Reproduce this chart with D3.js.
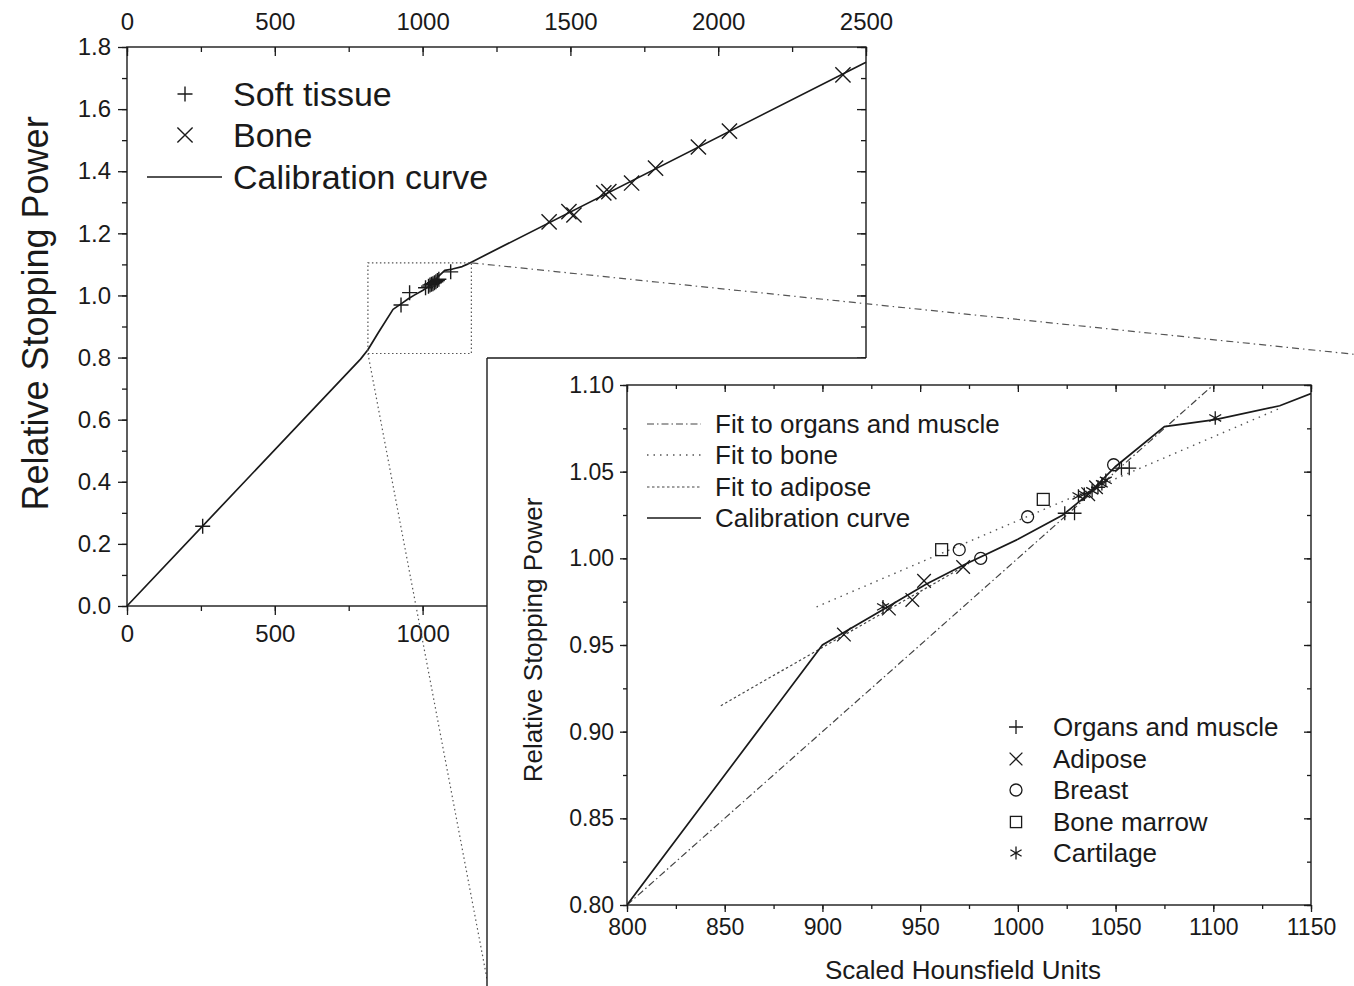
<!DOCTYPE html>
<html><head><meta charset="utf-8">
<script src="https://cdn.jsdelivr.net/npm/d3@7"></script>
<style>
body{margin:0;background:#fff;}
svg{display:block;font-family:"Liberation Sans",Arial,sans-serif;}
</style></head><body>
<svg id="c" width="1354" height="986"></svg>
<script>
// ---------- data ----------
// main plot
const mainXDomain = [0, 2500];
const mainYDomain = [0, 1.8];
const mainXTicks = [0, 500, 1000, 1500, 2000, 2500];
const mainXBottomTicks = [0, 500, 1000];
const mainYTicks = [0, 0.2, 0.4, 0.6, 0.8, 1.0, 1.2, 1.4, 1.6, 1.8];
const softX = [256, 927, 956, 1010, 1020, 1025, 1030, 1035, 1040, 1045, 1050, 1055, 1095];
const softY = [0.257, 0.969, 1.009, 1.025, 1.030, 1.034, 1.036, 1.038, 1.041, 1.044, 1.048, 1.052, 1.076];
const boneX = [1428, 1495, 1512, 1613, 1630, 1707, 1788, 1933, 2038, 2422];
const boneY = [1.237, 1.270, 1.259, 1.330, 1.334, 1.362, 1.410, 1.478, 1.529, 1.710];
const mainCalX = [0, 790, 815, 850, 900, 932, 953, 972, 1000, 1023, 1035, 1050, 1075, 1101, 1134, 1150, 2500];
const mainCalY = [0, 0.795, 0.825, 0.880, 0.955, 0.976, 0.990, 1.001, 1.016, 1.030, 1.041, 1.058, 1.081, 1.085, 1.093, 1.100, 1.751];
const zoomBoxX = [815, 1165];
const zoomBoxY = [0.813, 1.105];
const mainLegend = ["Soft tissue", "Bone", "Calibration curve"];

// inset
const insetXDomain = [800, 1150];
const insetYDomain = [0.80, 1.10];
const insetXTicks = [800, 850, 900, 950, 1000, 1050, 1100, 1150];
const insetYTicks = [0.80, 0.85, 0.90, 0.95, 1.00, 1.05, 1.10];
const calX = [800, 900, 932, 953, 972, 1000, 1023, 1035, 1050, 1075, 1101, 1134, 1150];
const calY = [0.800, 0.950, 0.971, 0.985, 0.996, 1.011, 1.025, 1.036, 1.053, 1.076, 1.080, 1.088, 1.095];
const organFitX = [800, 1100];
const organFitY = [0.800, 1.100];
const boneFitX = [897, 1135];
const boneFitY = [0.972, 1.087];
const adiposeFitX = [848, 975];
const adiposeFitY = [0.915, 0.997];
const organsX = [1024, 1029, 1041, 1053, 1057];
const organsY = [1.026, 1.026, 1.041, 1.052, 1.052];
const adiposeX = [911, 934, 946, 952, 972, 1036, 1040];
const adiposeY = [0.956, 0.971, 0.976, 0.987, 0.995, 1.037, 1.041];
const breastX = [970, 981, 1005, 1049];
const breastY = [1.005, 1.000, 1.024, 1.054];
const marrowX = [961, 1013];
const marrowY = [1.005, 1.034];
const cartilageX = [931, 1031, 1034, 1038, 1043, 1045, 1101];
const cartilageY = [0.972, 1.036, 1.037, 1.039, 1.043, 1.045, 1.081];
const lineLegend = ["Fit to organs and muscle", "Fit to bone", "Fit to adipose", "Calibration curve"];
const markerLegend = ["Organs and muscle", "Adipose", "Breast", "Bone marrow", "Cartilage"];

// ---------- layout ----------
const svg = d3.select("#c");
const INK = "#1a1a1a";
const mx = d3.scaleLinear(mainXDomain, [127, 866]);
const my = d3.scaleLinear(mainYDomain, [606, 47]);
const ix = d3.scaleLinear(insetXDomain, [627, 1311]);
const iy = d3.scaleLinear(insetYDomain, [905, 385]);
const panel = {left: 487, top: 358, right: 1390, bottom: 1000};

const zip = (xs, ys) => xs.map((x, i) => [x, ys[i]]);

function marker(g, type, x, y, s) {
  if (type === "plus") {
    g.append("path").attr("d", `M${x-s},${y}H${x+s}M${x},${y-s}V${y+s}`);
  } else if (type === "cross") {
    const t = s * 0.8;
    g.append("path").attr("d", `M${x-t},${y-t}L${x+t},${y+t}M${x-t},${y+t}L${x+t},${y-t}`);
  } else if (type === "circle") {
    g.append("circle").attr("cx", x).attr("cy", y).attr("r", s * 0.75).attr("fill", "none");
  } else if (type === "square") {
    const t = s * 0.7;
    g.append("rect").attr("x", x-t).attr("y", y-t).attr("width", 2*t).attr("height", 2*t).attr("fill", "none");
  } else if (type === "star") {
    const t = s * 0.8, u = s * 0.7;
    g.append("path").attr("d", `M${x},${y-t}V${y+t}M${x-u},${y-t*0.5}L${x+u},${y+t*0.5}M${x-u},${y+t*0.5}L${x+u},${y-t*0.5}`);
  }
}

function styleAxis(g, fs) {
  g.select(".domain").remove();
  g.selectAll("line").attr("stroke", INK).attr("stroke-width", 1.3);
  g.selectAll("text").attr("fill", INK).attr("font-size", fs).attr("font-family", '"Liberation Sans",Arial,sans-serif');
}

// ---------- main plot ----------
const main = svg.append("g");
const mMinorX = d3.range(mainXDomain[0], mainXDomain[1] + 1, 250);
const mMinorXBottom = d3.range(0, 1251, 250);
const mMinorY = d3.range(0, 19).map(i => i / 10);

// left
let g = main.append("g").attr("transform", `translate(${mx(0)},0)`)
  .call(d3.axisLeft(my).tickValues(mMinorY).tickSize(5).tickFormat(""));
styleAxis(g, 24);
g = main.append("g").attr("transform", `translate(${mx(0)},0)`)
  .call(d3.axisLeft(my).tickValues(mainYTicks).tickSize(9).tickPadding(7).tickFormat(d3.format(".1f")));
styleAxis(g, 24);
// right (inward)
g = main.append("g").attr("transform", `translate(${mx(2500)},0)`)
  .call(d3.axisLeft(my).tickValues(mMinorY).tickSize(5).tickFormat(""));
styleAxis(g, 24);
g = main.append("g").attr("transform", `translate(${mx(2500)},0)`)
  .call(d3.axisLeft(my).tickValues(mainYTicks).tickSize(9).tickFormat(""));
styleAxis(g, 24);
// top (inward ticks, labels above)
g = main.append("g").attr("transform", `translate(0,${my(1.8)})`)
  .call(d3.axisBottom(mx).tickValues(mMinorX).tickSize(5).tickFormat(""));
styleAxis(g, 24);
g = main.append("g").attr("transform", `translate(0,${my(1.8)})`)
  .call(d3.axisTop(mx).tickValues(mainXTicks).tickSize(-9).tickPadding(17).tickFormat(d3.format("d")));
styleAxis(g, 24);
// bottom (right part hidden behind the inset panel)
g = main.append("g").attr("transform", `translate(0,${my(0)})`)
  .call(d3.axisBottom(mx).tickValues(mMinorXBottom).tickSize(5).tickFormat(""));
styleAxis(g, 24);
g = main.append("g").attr("transform", `translate(0,${my(0)})`)
  .call(d3.axisBottom(mx).tickValues(mainXBottomTicks).tickSize(9).tickPadding(10).tickFormat(d3.format("d")));
styleAxis(g, 24);
// frame
main.append("rect").attr("x", mx(0)).attr("y", my(1.8)).attr("width", mx(2500) - mx(0)).attr("height", my(0) - my(1.8))
  .attr("fill", "none").attr("stroke", INK).attr("stroke-width", 1.4);

// y label
main.append("text").attr("transform", `translate(48,${(my(0) + my(1.8)) / 2 - 13}) rotate(-90)`)
  .attr("text-anchor", "middle").attr("font-size", 36).attr("fill", INK).text("Relative Stopping Power");

// calibration curve
const mLine = d3.line().x(d => mx(d[0])).y(d => my(d[1]));
main.append("path").datum(zip(mainCalX, mainCalY)).attr("d", mLine)
  .attr("fill", "none").attr("stroke", INK).attr("stroke-width", 1.7).attr("stroke-linejoin", "round");

// markers
const mm = main.append("g").attr("stroke", INK).attr("stroke-width", 1.4).attr("fill", "none");
zip(softX, softY).forEach(d => marker(mm, "plus", mx(d[0]), my(d[1]), 7.5));
zip(boneX, boneY).forEach(d => marker(mm, "cross", mx(d[0]), my(d[1]), 9.5));

// zoom box
main.append("rect").attr("x", mx(zoomBoxX[0])).attr("y", my(zoomBoxY[1]))
  .attr("width", mx(zoomBoxX[1]) - mx(zoomBoxX[0])).attr("height", my(zoomBoxY[0]) - my(zoomBoxY[1]))
  .attr("fill", "none").attr("stroke", "#555").attr("stroke-width", 1.2).attr("stroke-dasharray", "1.5,2.5");

// main legend
const ml = main.append("g").attr("stroke", INK).attr("stroke-width", 1.4).attr("fill", "none");
marker(ml, "plus", 185, 94, 7.5);
marker(ml, "cross", 185, 135, 9.5);
ml.append("line").attr("x1", 147).attr("x2", 222).attr("y1", 177).attr("y2", 177);
mainLegend.forEach((t, i) => {
  main.append("text").attr("x", 233).attr("y", [94, 135, 177][i]).attr("dy", "0.36em")
    .attr("font-size", 34).attr("fill", INK).text(t);
});

// connector lines
main.append("line").attr("x1", mx(zoomBoxX[1])).attr("y1", my(zoomBoxY[1])).attr("x2", panel.right).attr("y2", panel.top)
  .attr("stroke", "#555").attr("stroke-width", 1.2).attr("stroke-dasharray", "7,4,1.5,4");
main.append("line").attr("x1", mx(zoomBoxX[0])).attr("y1", my(zoomBoxY[0])).attr("x2", panel.left + 4).attr("y2", panel.bottom)
  .attr("stroke", "#555").attr("stroke-width", 1.2).attr("stroke-dasharray", "1.5,3");

// ---------- inset panel ----------
svg.append("rect").attr("x", panel.left).attr("y", panel.top).attr("width", 1354 - panel.left).attr("height", 986 - panel.top)
  .attr("fill", "#fff");
svg.append("line").attr("x1", panel.left).attr("x2", panel.left).attr("y1", panel.top).attr("y2", 986)
  .attr("stroke", INK).attr("stroke-width", 1.4);
svg.append("line").attr("x1", panel.left).attr("x2", mx(2500)).attr("y1", panel.top).attr("y2", panel.top)
  .attr("stroke", INK).attr("stroke-width", 1.4);

const ins = svg.append("g");
const iMinorX = d3.range(800, 1151, 25);
const iMinorY = d3.range(0, 13).map(i => 0.8 + i * 0.025);

g = ins.append("g").attr("transform", `translate(${ix(800)},0)`)
  .call(d3.axisLeft(iy).tickValues(iMinorY).tickSize(4).tickFormat(""));
styleAxis(g, 23);
g = ins.append("g").attr("transform", `translate(${ix(800)},0)`)
  .call(d3.axisLeft(iy).tickValues(insetYTicks).tickSize(7).tickPadding(6).tickFormat(d3.format(".2f")));
styleAxis(g, 23);
g = ins.append("g").attr("transform", `translate(${ix(1150)},0)`)
  .call(d3.axisLeft(iy).tickValues(iMinorY).tickSize(4).tickFormat(""));
styleAxis(g, 23);
g = ins.append("g").attr("transform", `translate(${ix(1150)},0)`)
  .call(d3.axisLeft(iy).tickValues(insetYTicks).tickSize(7).tickFormat(""));
styleAxis(g, 23);
g = ins.append("g").attr("transform", `translate(0,${iy(1.1)})`)
  .call(d3.axisBottom(ix).tickValues(iMinorX).tickSize(4).tickFormat(""));
styleAxis(g, 23);
g = ins.append("g").attr("transform", `translate(0,${iy(1.1)})`)
  .call(d3.axisBottom(ix).tickValues(insetXTicks).tickSize(7).tickFormat(""));
styleAxis(g, 23);
g = ins.append("g").attr("transform", `translate(0,${iy(0.8)})`)
  .call(d3.axisBottom(ix).tickValues(iMinorX).tickSize(4).tickFormat(""));
styleAxis(g, 23);
g = ins.append("g").attr("transform", `translate(0,${iy(0.8)})`)
  .call(d3.axisBottom(ix).tickValues(insetXTicks).tickSize(7).tickPadding(7).tickFormat(d3.format("d")));
styleAxis(g, 23);
ins.append("rect").attr("x", ix(800)).attr("y", iy(1.1)).attr("width", ix(1150) - ix(800)).attr("height", iy(0.8) - iy(1.1))
  .attr("fill", "none").attr("stroke", INK).attr("stroke-width", 1.4);

ins.append("text").attr("transform", `translate(542,${(iy(0.8) + iy(1.1)) / 2 - 5}) rotate(-90)`)
  .attr("text-anchor", "middle").attr("font-size", 26).attr("fill", INK).text("Relative Stopping Power");
ins.append("text").attr("x", (ix(800) + ix(1150)) / 2 - 6).attr("y", 979)
  .attr("text-anchor", "middle").attr("font-size", 26).attr("fill", INK).text("Scaled Hounsfield Units");

const iLine = d3.line().x(d => ix(d[0])).y(d => iy(d[1]));
const lineStyles = [
  {dash: "7,3,1.5,3", color: "#444", w: 1.2},
  {dash: "1.5,5", color: "#555", w: 1.4},
  {dash: "2.5,2.5", color: "#444", w: 1.2},
  {dash: null, color: INK, w: 1.7}
];
svg.append("defs").append("clipPath").attr("id", "ic").append("rect")
  .attr("x", ix(800)).attr("y", iy(1.1)).attr("width", ix(1150) - ix(800)).attr("height", iy(0.8) - iy(1.1));
const plotG = ins.append("g").attr("clip-path", "url(#ic)");
[[organFitX, organFitY], [boneFitX, boneFitY], [adiposeFitX, adiposeFitY], [calX, calY]].forEach((s, i) => {
  const st = lineStyles[i];
  plotG.append("path").datum(zip(s[0], s[1])).attr("d", iLine).attr("fill", "none")
    .attr("stroke", st.color).attr("stroke-width", st.w).attr("stroke-dasharray", st.dash);
});

const im = ins.append("g").attr("stroke", INK).attr("stroke-width", 1.3).attr("fill", "none");
zip(organsX, organsY).forEach(d => marker(im, "plus", ix(d[0]), iy(d[1]), 7));
zip(adiposeX, adiposeY).forEach(d => marker(im, "cross", ix(d[0]), iy(d[1]), 8.5));
zip(breastX, breastY).forEach(d => marker(im, "circle", ix(d[0]), iy(d[1]), 8));
zip(marrowX, marrowY).forEach(d => marker(im, "square", ix(d[0]), iy(d[1]), 8.5));
zip(cartilageX, cartilageY).forEach(d => marker(im, "star", ix(d[0]), iy(d[1]), 8.5));

// inset line legend
const llY = [424, 455, 487, 518];
lineLegend.forEach((t, i) => {
  const st = lineStyles[i];
  ins.append("line").attr("x1", 647).attr("x2", 701).attr("y1", llY[i]).attr("y2", llY[i])
    .attr("stroke", st.color).attr("stroke-width", st.w).attr("stroke-dasharray", st.dash);
  ins.append("text").attr("x", 715).attr("y", llY[i]).attr("dy", "0.36em").attr("font-size", 26).attr("fill", INK).text(t);
});
// inset marker legend
const mlY = [727, 759, 790, 822, 853];
const types = ["plus", "cross", "circle", "square", "star"];
const lg = ins.append("g").attr("stroke", INK).attr("stroke-width", 1.3).attr("fill", "none");
markerLegend.forEach((t, i) => {
  marker(lg, types[i], 1016, mlY[i], types[i] === "plus" ? 7 : 8);
  ins.append("text").attr("x", 1053).attr("y", mlY[i]).attr("dy", "0.36em").attr("font-size", 26).attr("fill", INK).text(t);
});
</script>
</body></html>
